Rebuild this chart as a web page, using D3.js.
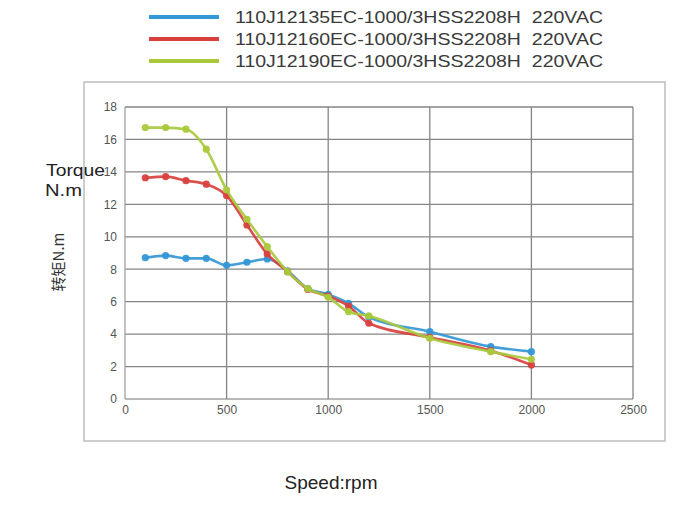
<!DOCTYPE html>
<html><head><meta charset="utf-8">
<script src="https://cdn.jsdelivr.net/npm/d3@7"></script>
<style>body{margin:0;background:#fff}svg{display:block}</style>
</head><body><div id="c"></div>
<script>
const seriesNames = ["110J12135EC-1000/3HSS2208H  220VAC","110J12160EC-1000/3HSS2208H  220VAC","110J12190EC-1000/3HSS2208H  220VAC"];
const seriesColors = ["#3497d6","#d8403e","#a9c93c"];
const speedBlue = [100,200,300,400,500,600,700,800,900,1000,1100,1200,1500,1800,2000];
const torqueBlue = [8.71,8.84,8.67,8.67,8.24,8.43,8.63,7.9,6.8,6.45,5.9,5.05,4.15,3.23,2.92];
const speedRed = [100,200,300,400,500,600,700,800,900,1000,1100,1200,1500,1800,2000];
const torqueRed = [13.64,13.71,13.46,13.24,12.54,10.73,8.94,7.85,6.75,6.35,5.73,4.67,3.8,2.98,2.1];
const speedGreen = [100,200,300,400,500,600,700,800,900,1000,1100,1200,1500,1800,2000];
const torqueGreen = [16.73,16.73,16.63,15.4,12.89,11.08,9.39,7.85,6.8,6.27,5.38,5.12,3.74,2.92,2.45];
const xTicks = [0,500,1000,1500,2000,2500];
const yTicks = [0,2,4,6,8,10,12,14,16,18];

const W=678,H=508;
const svg=d3.select("#c").append("svg").attr("width",W).attr("height",H);
const x=d3.scaleLinear().domain([0,2500]).range([125,633]);
const y=d3.scaleLinear().domain([0,18]).range([399,107]);

svg.append("rect").attr("x",84).attr("y",82).attr("width",581).attr("height",359)
  .attr("fill","none").attr("stroke","#bdbdbd").attr("stroke-width",1.5);

const g=svg.append("g");
g.selectAll(".hg").data(yTicks).join("line")
  .attr("x1",125).attr("x2",633).attr("y1",d=>y(d)).attr("y2",d=>y(d))
  .attr("stroke",d=>d===0?"#a0a0a0":"#858585").attr("stroke-width",1.3);
g.selectAll(".vg").data(xTicks).join("line")
  .attr("y1",107).attr("y2",399).attr("x1",d=>x(d)).attr("x2",d=>x(d))
  .attr("stroke",d=>d===0?"#a0a0a0":"#858585").attr("stroke-width",1.3);

const yAxis=d3.axisLeft(y).tickValues(yTicks).tickFormat(d3.format("d")).tickSize(0).tickPadding(8);
const ya=svg.append("g").attr("transform","translate(125,0)").call(yAxis);
ya.select(".domain").remove();
ya.selectAll("text").attr("font-family","Liberation Sans, Arial, sans-serif").attr("font-size",12).attr("fill","#555");
const xAxis=d3.axisBottom(x).tickValues(xTicks).tickFormat(d3.format("d")).tickSize(0).tickPadding(6);
const xa=svg.append("g").attr("transform","translate(0,399)").call(xAxis);
xa.select(".domain").remove();
xa.selectAll("text").attr("font-family","Liberation Sans, Arial, sans-serif").attr("font-size",12).attr("fill","#555");

const data=[
  {s:speedBlue,t:torqueBlue},
  {s:speedRed,t:torqueRed},
  {s:speedGreen,t:torqueGreen}
];
const line=d3.line().x(d=>x(d[0])).y(d=>y(d[1])).curve(d3.curveMonotoneX);
data.forEach((ser,i)=>{
  const pts=ser.s.map((v,j)=>[v,ser.t[j]]);
  svg.append("path").datum(pts).attr("d",line).attr("fill","none")
    .attr("stroke",seriesColors[i]).attr("stroke-width",2.6).attr("stroke-opacity",0.92);
  svg.append("g").selectAll("circle").data(pts).join("circle")
    .attr("cx",d=>x(d[0])).attr("cy",d=>y(d[1])).attr("r",3.6)
    .attr("fill",seriesColors[i]).attr("fill-opacity",0.95);
});

const lg=svg.append("g");
seriesNames.forEach((n,i)=>{
  const yy=17+i*22;
  lg.append("line").attr("x1",149).attr("x2",219).attr("y1",yy).attr("y2",yy)
    .attr("stroke",seriesColors[i]).attr("stroke-width",4);
  lg.append("text").attr("x",235).attr("y",yy+6).text(n)
    .attr("font-family","Liberation Sans, Arial, sans-serif").attr("font-size",17)
    .attr("fill","#3a3a3a").attr("textLength",368).attr("lengthAdjust","spacingAndGlyphs")
    .style("white-space","pre");
});

svg.append("text").attr("x",46).attr("y",176).text("Torque")
  .attr("font-family","Liberation Sans, Arial, sans-serif").attr("font-size",17).attr("fill","#222")
  .attr("textLength",59).attr("lengthAdjust","spacingAndGlyphs");
svg.append("text").attr("x",45).attr("y",196).text("N.m")
  .attr("font-family","Liberation Sans, Arial, sans-serif").attr("font-size",17).attr("fill","#222")
  .attr("textLength",37).attr("lengthAdjust","spacingAndGlyphs");
svg.append("text").attr("transform","translate(64,262) rotate(-90)").attr("text-anchor","middle")
  .text("转矩N.m").attr("font-family","Noto Sans CJK SC, sans-serif").attr("font-size",15).attr("fill","#333");
svg.append("text").attr("x",331).attr("y",489).attr("text-anchor","middle").text("Speed:rpm")
  .attr("font-family","Liberation Sans, Arial, sans-serif").attr("font-size",19).attr("fill","#222");
</script></body></html>
